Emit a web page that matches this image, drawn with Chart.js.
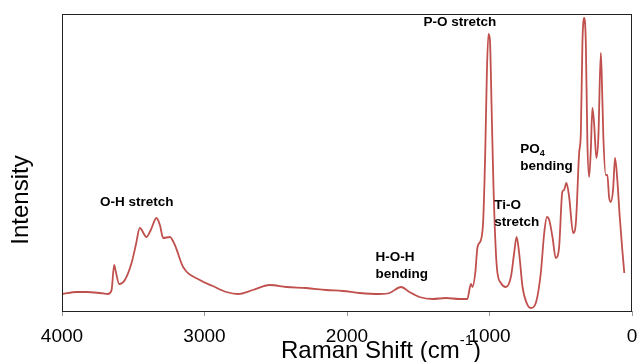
<!DOCTYPE html>
<html lang="en">
  <head>
    <meta charset="utf-8" />
    <title>Raman Spectrum</title>
    <style>
      html, body { margin: 0; padding: 0; background: #fff; }
    </style>
  </head>
  <body>
    <div>
      <canvas id="canvas" width="639" height="362"></canvas>
    </div>

    <script src="https://cdn.jsdelivr.net/npm/chart.js"></script>

    <script>
      // spectrum (cm-1 vs. arbitrary intensity)
      const shift = [
        4000, 3897, 3827, 3734, 3676, 3652, 3634, 3622, 3599, 3559, 3512, 3482,
        3454, 3407, 3377, 3337, 3313, 3290, 3243, 3208, 3150, 3033, 2942, 2846,
        2765, 2660, 2543, 2426, 2286, 2146, 2029, 1912, 1772, 1702, 1620, 1562,
        1492, 1399, 1305, 1212, 1156, 1130, 1119, 1100, 1084, 1060, 1044, 1030,
        1018, 1007, 997, 986, 972, 955, 944, 920, 885, 850, 827, 810, 792, 768,
        733, 710, 675, 640, 616, 597, 581, 558, 535, 512, 489, 477, 460, 441,
        413, 394, 371, 359, 348, 336, 324, 313, 301, 289, 278, 266, 250, 236,
        219, 212, 201, 184, 173, 161, 149, 133, 119, 103, 86, 68, 54,
      ];
      const intensity = [
        17, 19, 19, 18, 17, 21, 46, 39, 27, 31, 48, 66,
        83, 74, 81, 93, 86, 73, 74, 66, 44, 31, 25, 19,
        17, 21, 26, 24, 23, 21, 20, 18, 17, 18, 24, 19,
        14, 12, 13, 12, 12, 27, 24, 38, 64, 71, 91, 158,
        241, 277, 271, 208, 124, 58, 38, 28, 24, 34, 58, 74, 58, 24,
        6, 3, 8, 38, 78, 94, 91, 74, 53, 63, 119, 121, 128, 114,
        78, 88, 158, 178, 268, 293, 268, 168, 134, 161, 203, 188, 153, 174,
        258, 234, 174, 136, 136, 114, 109, 121, 153, 131, 94, 61, 38,
      ];

      const xTicks = [4000, 3000, 2000, 1000, 0];

      // peak labels: text lines, anchored at [shift, intensity] of first baseline
      const peakLabels = [
        { lines: ["P-O stretch"], at: [1464, 285] },
        { lines: ["O-H stretch"], at: [3734, 105] },
        { lines: ["H-O-H", "bending"], at: [1800, 50] },
        { lines: ["Ti-O", "stretch"], at: [967, 102] },
        { lines: ["PO|4", "bending"], at: [785, 158] },
      ];

      const FONT = "'Liberation Sans', Arial, sans-serif";

      const decorations = {
        id: "decorations",
        afterDraw(chart) {
          const c = chart.ctx;
          const a = chart.chartArea;
          const xs = chart.scales.x;
          const ys = chart.scales.y;
          c.save();

          // frame
          c.strokeStyle = "#222";
          c.lineWidth = 1;
          c.strokeRect(Math.round(a.left) + 0.5, Math.round(a.top) + 0.5,
            Math.round(a.right - a.left) - 1, Math.round(a.bottom - a.top));

          // peak labels
          c.fillStyle = "#000";
          c.textBaseline = "alphabetic";
          c.textAlign = "left";
          peakLabels.forEach((p) => {
            const x = xs.getPixelForValue(p.at[0]);
            let y = ys.getPixelForValue(p.at[1]);
            p.lines.forEach((line) => {
              const parts = line.split("|");
              c.font = "bold 13.5px " + FONT;
              c.fillText(parts[0], x, y);
              if (parts[1]) {
                const w = c.measureText(parts[0]).width;
                c.font = "bold 9px " + FONT;
                c.fillText(parts[1], x + w, y + 3);
              }
              y += 17;
            });
          });

          // x title with superscript
          const main = "Raman Shift (cm";
          c.font = "24px " + FONT;
          const w1 = c.measureText(main).width;
          const w3 = c.measureText(")").width;
          c.font = "15px " + FONT;
          const w2 = c.measureText("-1").width;
          let tx = 381 - (w1 + w2 + w3) / 2;
          const base = 358;
          c.font = "24px " + FONT;
          c.fillText(main, tx, base);
          tx += w1;
          c.font = "15px " + FONT;
          c.fillText("-1", tx, base - 13);
          tx += w2;
          c.font = "24px " + FONT;
          c.fillText(")", tx, base);

          // y title
          c.translate(21, 200);
          c.rotate(-Math.PI / 2);
          c.textAlign = "center";
          c.textBaseline = "middle";
          c.font = "24px " + FONT;
          c.fillText("Intensity", 0, 0);
          c.restore();
        },
      };

      const ctx = document.getElementById("canvas");

      new Chart(ctx, {
        type: "line",
        data: {
          datasets: [
            {
              label: "Raman",
              data: shift.map((s, i) => ({ x: s, y: intensity[i] })),
              borderColor: "#c0504d",
              borderWidth: 1.8,
              pointRadius: 0,
              cubicInterpolationMode: "monotone",
              fill: false,
            },
          ],
        },
        options: {
          responsive: false,
          animation: false,
          layout: { padding: { left: 62, right: 0, top: 14, bottom: 0 } },
          plugins: {
            legend: { display: false },
            tooltip: { enabled: false },
          },
          scales: {
            x: {
              type: "linear",
              reverse: true,
              min: 0,
              max: 4000,
              afterFit: (scale) => {
                scale.height = 51;
                scale.paddingRight = 7;
                scale.paddingLeft = 0;
              },
              afterBuildTicks: (scale) => {
                scale.ticks = xTicks.map((v) => ({ value: v }));
              },
              ticks: {
                callback: (v) => String(v),
                color: "#000",
                font: { family: FONT, size: 19 },
                padding: 9,
                maxRotation: 0,
                autoSkip: false,
              },
              grid: {
                drawOnChartArea: false,
                drawTicks: true,
                tickLength: 5,
                color: "#999",
              },
              border: { display: false },
            },
            y: {
              display: false,
              min: 0,
              max: 297,
            },
          },
        },
        plugins: [decorations],
      });
    </script>
  </body>
</html>
